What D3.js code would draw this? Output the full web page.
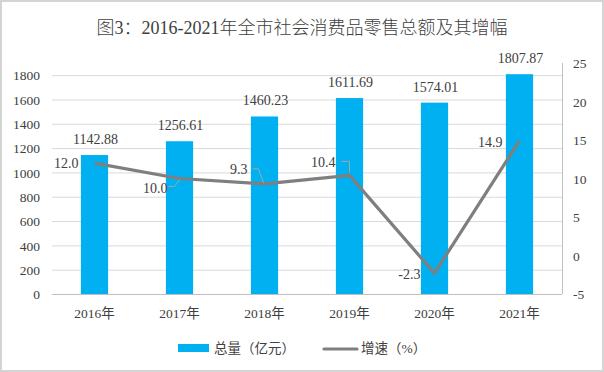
<!DOCTYPE html>
<html><head><meta charset="utf-8">
<script src="https://cdn.jsdelivr.net/npm/d3@7/dist/d3.min.js"></script>
<style>body{margin:0;background:#fff}svg{display:block}</style>
</head><body>
<svg id="c" width="604" height="372"></svg>
<script>
const categories = ["2016年","2017年","2018年","2019年","2020年","2021年"];
const totals = [1142.88, 1256.61, 1460.23, 1611.69, 1574.01, 1807.87];
const growth = [12.0, 10.0, 9.3, 10.4, -2.3, 14.9];
const leftTicks = [0,200,400,600,800,1000,1200,1400,1600,1800];
const rightTicks = [-5,0,5,10,15,20,25];
const title = "图3：2016-2021年全市社会消费品零售总额及其增幅";
const legendLabels = ["总量（亿元）","增速（%）"];

const svg = d3.select("#c");
const W=604,H=372;
const m={left:52,right:562,top:63,bottom:294};
const serif = "'Liberation Serif','Times New Roman','Noto Sans CJK SC',serif";
const cjk = "'Liberation Serif','Noto Sans CJK SC',sans-serif";
const plain = d => String(d);

svg.append("rect").attr("x",1).attr("y",1).attr("width",W-2).attr("height",H-2)
  .attr("fill","#fff").attr("stroke","#d4d4d4").attr("stroke-width",2);

const x = d3.scaleBand().domain(categories).range([m.left,m.right]).paddingInner(0.68).paddingOuter(0.34);
const xc = d => x(d)+x.bandwidth()/2;
const yL = d3.scaleLinear().domain([0,1900]).range([m.bottom,m.top]);
const yR = d3.scaleLinear().domain([-5,25]).range([m.bottom,m.top]);

// gridlines
svg.append("g").selectAll("line").data(leftTicks).join("line")
  .attr("x1",m.left).attr("x2",m.right)
  .attr("y1",d=>yL(d)+0.5).attr("y2",d=>yL(d)+0.5)
  .attr("stroke",d=>d===0?"#bfbfbf":"#d9d9d9").attr("stroke-width",1);

// left axis labels
const gl = svg.append("g").attr("transform",`translate(${m.left-12},0)`)
  .call(d3.axisLeft(yL).tickValues(leftTicks).tickFormat(plain).tickSize(0).tickPadding(0));
gl.select(".domain").remove();
gl.selectAll("text").attr("font-family",serif).attr("font-size",13.5).attr("fill","#404040").attr("dy","0.35em");

// right axis
svg.append("line").attr("x1",m.right+0.5).attr("x2",m.right+0.5).attr("y1",m.top).attr("y2",m.bottom)
  .attr("stroke","#bfbfbf");
const gr = svg.append("g").attr("transform",`translate(${m.right+11},0)`)
  .call(d3.axisRight(yR).tickValues(rightTicks).tickFormat(plain).tickSize(0).tickPadding(0));
gr.select(".domain").remove();
gr.selectAll("text").attr("font-family",serif).attr("font-size",13.5).attr("fill","#404040").attr("dy","0.35em");

// bars
svg.append("g").selectAll("rect").data(totals).join("rect")
  .attr("x",(d,i)=>x(categories[i])).attr("width",x.bandwidth())
  .attr("y",d=>yL(d)).attr("height",d=>yL(0)-yL(d)).attr("fill","#00b0f0");

// bar labels
svg.append("g").selectAll("text").data(totals).join("text")
  .attr("x",(d,i)=>xc(categories[i])+1).attr("y",d=>yL(d)-11)
  .attr("text-anchor","middle").attr("font-family",serif).attr("font-size",14).attr("fill","#404040")
  .text(d=>d.toFixed(2));

// x labels
svg.append("g").selectAll("text").data(categories).join("text")
  .attr("x",d=>xc(d)).attr("y",318).attr("text-anchor","middle")
  .attr("font-family",cjk).attr("font-size",13.5).attr("fill","#404040").text(d=>d);

// line
const line = d3.line().x((d,i)=>xc(categories[i])).y(d=>yR(d));
svg.append("path").datum(growth).attr("d",line).attr("fill","none")
  .attr("stroke","#7f7f7f").attr("stroke-width",3.2).attr("stroke-linejoin","round");

// line labels: offsets relative to point
const lblOff = [[-16,5],[-12,14],[-17,-10],[-14,-8],[-14,6],[-17,6]];
svg.append("g").selectAll("text").data(growth).join("text")
  .attr("x",(d,i)=>xc(categories[i])+lblOff[i][0]).attr("y",(d,i)=>yR(d)+lblOff[i][1])
  .attr("text-anchor","end").attr("font-family",serif).attr("font-size",14).attr("fill","#404040")
  .text(d=>d.toFixed(1));

// leader lines
const leaders = [
  {i:1, pts:[[-11,8],[-5,8],[0,1]]},
  {i:2, pts:[[-12,-15],[-6,-15],[-1,-1]]},
  {i:3, pts:[[-8,-14],[0,-14],[0,-3]]}
];
leaders.forEach(l=>{
  const px=xc(categories[l.i]), py=yR(growth[l.i]);
  svg.append("path").attr("d",d3.line()(l.pts.map(p=>[px+p[0],py+p[1]])))
    .attr("fill","none").attr("stroke","#a6a6a6").attr("stroke-width",1);
});

// title
svg.append("text").attr("x",302).attr("y",34).attr("text-anchor","middle")
  .attr("font-family",cjk).attr("font-size",18).attr("font-weight",300).attr("fill","#404040").text(title);

// legend
const lg = svg.append("g");
lg.append("rect").attr("x",178).attr("y",344).attr("width",31).attr("height",8).attr("fill","#00b0f0");
lg.append("text").attr("x",214).attr("y",353).attr("font-family",cjk).attr("font-size",13.5).attr("fill","#404040").text(legendLabels[0]);
lg.append("line").attr("x1",324).attr("x2",357).attr("y1",349).attr("y2",349).attr("stroke","#7f7f7f").attr("stroke-width",3.2).attr("stroke-linecap","round");
lg.append("text").attr("x",361).attr("y",353).attr("font-family",cjk).attr("font-size",13.5).attr("fill","#404040").text(legendLabels[1]);
</script>
</body></html>
